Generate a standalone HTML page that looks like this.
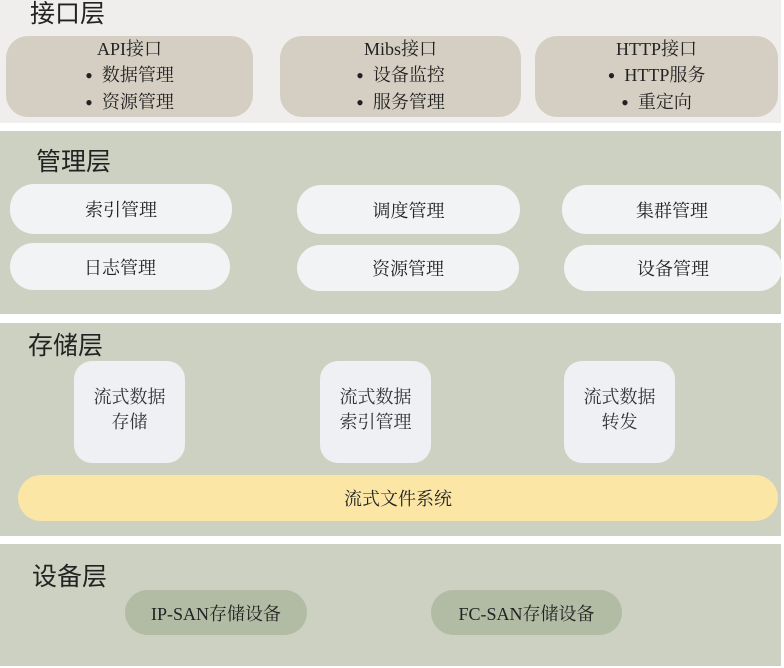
<!DOCTYPE html>
<html><head><meta charset="utf-8"><style>
body{margin:0;width:784px;height:668px;background:#fff;position:relative;overflow:hidden;font-family:"Liberation Serif","Noto Serif CJK SC","Noto Sans CJK SC",serif;color:#222}
div{position:absolute;box-sizing:border-box}
.sec{left:0;width:781px}
.t{font-size:25px;font-family:"Liberation Sans","Noto Sans CJK SC",sans-serif;color:#222}
.ib{background:#d5cfc3;border-radius:22px;top:36px;height:81px;text-align:center;font-size:18px;line-height:26px;padding-top:0px}
.ib b{font-size:22px;font-weight:normal;vertical-align:-2px}
.p{background:#f2f3f5;border-radius:24px;text-align:center;font-size:18px;display:flex;align-items:center;justify-content:center}
.s{background:#eef0f4;border-radius:18px;top:361px;width:111px;height:102px;text-align:center;font-size:18px;line-height:25px;padding-top:24px;color:#333}
.d{background:#b2bba4;border-radius:23px;top:590px;height:45px;font-size:18px;display:flex;align-items:center;justify-content:center}
</style></head><body>
<div class="sec" style="top:0;height:123px;background:#efeeec"></div>
<div class="t" style="left:30px;top:-6px">接口层</div>
<div class="ib" style="left:6px;width:247px">API接口<br><b>•</b>&nbsp;&nbsp;数据管理<br><b>•</b>&nbsp;&nbsp;资源管理</div>
<div class="ib" style="left:280px;width:241px">Mibs接口<br><b>•</b>&nbsp;&nbsp;设备监控<br><b>•</b>&nbsp;&nbsp;服务管理</div>
<div class="ib" style="left:535px;width:243px">HTTP接口<br><b>•</b>&nbsp;&nbsp;HTTP服务<br><b>•</b>&nbsp;&nbsp;重定向</div>

<div class="sec" style="top:131px;height:183px;background:#ccd1c1"></div>
<div class="t" style="left:36px;top:142px">管理层</div>
<div class="p" style="left:10px;top:184px;width:222px;height:50px">索引管理</div>
<div class="p" style="left:297px;top:185px;width:223px;height:49px">调度管理</div>
<div class="p" style="left:562px;top:185px;width:220px;height:49px">集群管理</div>
<div class="p" style="left:10px;top:243px;width:220px;height:47px">日志管理</div>
<div class="p" style="left:297px;top:245px;width:222px;height:46px">资源管理</div>
<div class="p" style="left:564px;top:245px;width:218px;height:46px">设备管理</div>

<div class="sec" style="top:323px;height:213px;background:#ccd1c1"></div>
<div class="t" style="left:28px;top:326px">存储层</div>
<div class="s" style="left:74px">流式数据<br>存储</div>
<div class="s" style="left:320px">流式数据<br>索引管理</div>
<div class="s" style="left:564px">流式数据<br>转发</div>
<div style="left:18px;top:475px;width:760px;height:46px;background:#fbe6a6;border-radius:23px;font-size:18px;display:flex;align-items:center;justify-content:center">流式文件系统</div>

<div class="sec" style="top:544px;height:122px;background:#ccd1c1"></div>
<div class="t" style="left:32px;top:557px">设备层</div>
<div class="d" style="left:125px;width:182px">IP-SAN存储设备</div>
<div class="d" style="left:431px;width:191px">FC-SAN存储设备</div>
</body></html>
